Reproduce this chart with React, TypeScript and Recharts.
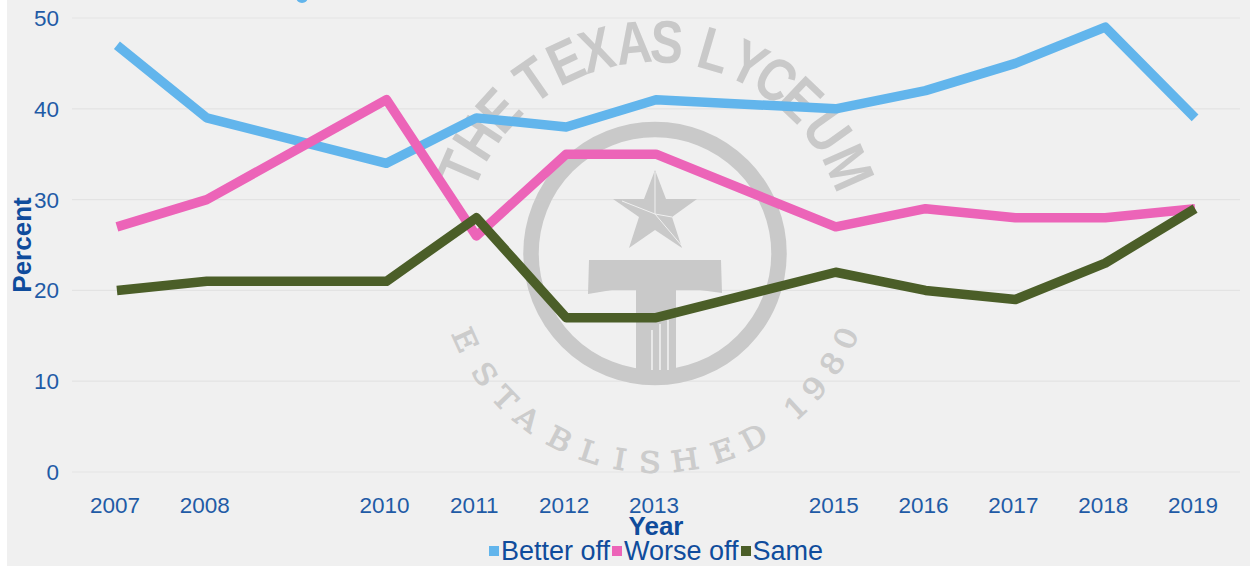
import { CartesianGrid, Legend, Line, LineChart, XAxis, YAxis } from "recharts";

const years = [2007, 2008, 2010, 2011, 2012, 2013, 2015, 2016, 2017, 2018, 2019];
const betterOff = [47, 39, 34, 39, 38, 41, 40, 42, 45, 49, 39];
const worseOff = [27, 30, 41, 26, 35, 35, 27, 29, 28, 28, 29];
const same = [20, 21, 21, 28, 17, 17, 22, 20, 19, 23, 29];
const yTicks = [0, 10, 20, 30, 40, 50];

const BLUE = "#62b5ec";
const PINK = "#ec64b8";
const GREEN = "#4b5e28";
const TICK = "#1f5ba6";
const TITLE = "#0f4c9c";
const FONT = '"Liberation Sans", Arial, sans-serif';

const data = years.map((year, i) => ({
  year,
  "Better off": betterOff[i],
  "Worse off": worseOff[i],
  Same: same[i],
}));

// watermark lettering: one [letter, degrees from vertical] per glyph
const topLetters: [string, number][] = [
  ["T", -66.5], ["H", -57], ["E", -47.5],
  ["T", -34.9], ["E", -24.9], ["X", -16], ["A", -5.8], ["S", 3.2],
  ["L", 16.4], ["Y", 26.2], ["C", 34.8], ["E", 43.5], ["U", 54.5], ["M", 66],
];
const bottomLetters: [string, number][] = [
  ["E", 65.5], ["S", 54.7], ["T", 46], ["A", 37.7], ["B", 27.2], ["L", 18], ["I", 9.7], ["S", 1.4],
  ["H", -8.3], ["E", -19], ["D", -28.2], ["1", -42.4], ["9", -49.8], ["8", -58.2], ["0", -66],
];

const CX = 655;
const CY = 253.5;
const WM = "#c9c9c9";
const BG = "#f0f0f0";

function Watermark() {
  return (
    <g>
      <circle cx={CX} cy={CY} r={124} fill="none" stroke={WM} strokeWidth={15.5} />
      <polygon
        points="655,170 666,199 697,199 672,217 682,248 655,230 629,248 639,217 613,199 644,199"
        fill={WM}
      />
      <polyline points="655,172 655,214 672,217" fill="none" stroke={BG} strokeWidth={1} />
      <polyline points="622,201 655,214 682,246" fill="none" stroke={BG} strokeWidth={1} />
      <polygon
        points="589,260 721,260 722,293 700,290 676,290 676,370 636,370 636,290 612,290 588,294"
        fill={WM}
      />
      <path d="M652 330V370M660 324V370M668 320V370" stroke={BG} strokeWidth={1.6} fill="none" />
      {topLetters.map(([ch, deg], i) => {
        const a = (deg * Math.PI) / 180;
        const x = CX + 212 * Math.sin(a);
        const y = CY - 212 * Math.cos(a);
        return (
          <text
            key={i}
            transform={`translate(${x},${y}) rotate(${deg}) scale(0.82,1)`}
            textAnchor="middle"
            dominantBaseline="central"
            fontFamily={FONT}
            fontWeight={700}
            fontSize={60}
            fill={WM}
          >
            {ch}
          </text>
        );
      })}
      {bottomLetters.map(([ch, deg], i) => {
        const a = (deg * Math.PI) / 180;
        const x = CX - 209 * Math.sin(a);
        const y = CY + 209 * Math.cos(a);
        return (
          <text
            key={i}
            transform={`translate(${x},${y}) rotate(${deg}) scale(1.1,1)`}
            textAnchor="middle"
            dominantBaseline="central"
            fontFamily='"DejaVu Serif", serif'
            fontWeight={400}
            fontSize={29}
            stroke="#cccccc"
            strokeWidth={1}
            fill="#cccccc"
          >
            {ch}
          </text>
        );
      })}
      <circle cx={302} cy={-3} r={6} fill={BLUE} />
    </g>
  );
}

function LegendRow({ payload }: { payload?: { value: string; color: string }[] }) {
  return (
    <div
      style={{
        display: "flex",
        justifyContent: "center",
        alignItems: "center",
        height: 30,
        paddingLeft: 70,
        fontFamily: FONT,
        fontSize: 27,
        color: TITLE,
        lineHeight: "30px",
      }}
    >
      {(payload ?? []).map((item) => (
        <span key={item.value} style={{ display: "flex", alignItems: "center" }}>
          <span style={{ width: 10, height: 10, background: item.color, marginRight: 2, marginLeft: 2 }} />
          {item.value}
        </span>
      ))}
    </div>
  );
}

export default function App() {
  return (
    <div style={{ position: "absolute", left: 0, top: 0, width: 1250, height: 566, background: "#fff", overflow: "hidden" }}>
      <div style={{ position: "absolute", left: 7, top: 0, width: 1243, height: 566, background: BG }} />
      <LineChart
        width={1250}
        height={566}
        data={data}
        margin={{ top: 18, right: 10, bottom: 0, left: 0 }}
        style={{ position: "absolute", left: 0, top: 0 }}
      >
        <CartesianGrid horizontal vertical={false} stroke="#e3e3e3" strokeWidth={1.2} />
        <XAxis
          dataKey="year"
          type="number"
          domain={[2006.5, 2019.5]}
          ticks={years}
          interval={0}
          height={64}
          axisLine={false}
          tickLine={false}
          tickMargin={19}
          tick={{ fontSize: 22.5, fontFamily: FONT, fill: TICK, dx: -2 }}
          label={{
            value: "Year",
            position: "insideBottom",
            offset: 1,
            style: { fontSize: 26, fontWeight: 700, fontFamily: FONT, fill: TITLE },
          }}
        />
        <YAxis
          domain={[0, 50]}
          ticks={yTicks}
          width={72}
          axisLine={false}
          tickLine={false}
          tickMargin={7}
          tick={{ fontSize: 22.5, fontFamily: FONT, fill: TICK }}
          label={{
            value: "Percent",
            angle: -90,
            position: "insideLeft",
            offset: 22,
            style: { fontSize: 26, fontWeight: 700, fontFamily: FONT, fill: TITLE, textAnchor: "middle" },
          }}
        />
        <Watermark />
        <Line dataKey="Better off" stroke={BLUE} strokeWidth={9.5} dot={false} isAnimationActive={false} strokeLinejoin="round" />
        <Line dataKey="Worse off" stroke={PINK} strokeWidth={9.5} dot={false} isAnimationActive={false} strokeLinejoin="round" />
        <Line dataKey="Same" stroke={GREEN} strokeWidth={9.5} dot={false} isAnimationActive={false} strokeLinejoin="round" />
        <Legend
          verticalAlign="bottom"
          height={30}
          itemSorter={null}
          content={(props: any) => <LegendRow payload={props.payload} />}
        />
      </LineChart>
    </div>
  );
}
